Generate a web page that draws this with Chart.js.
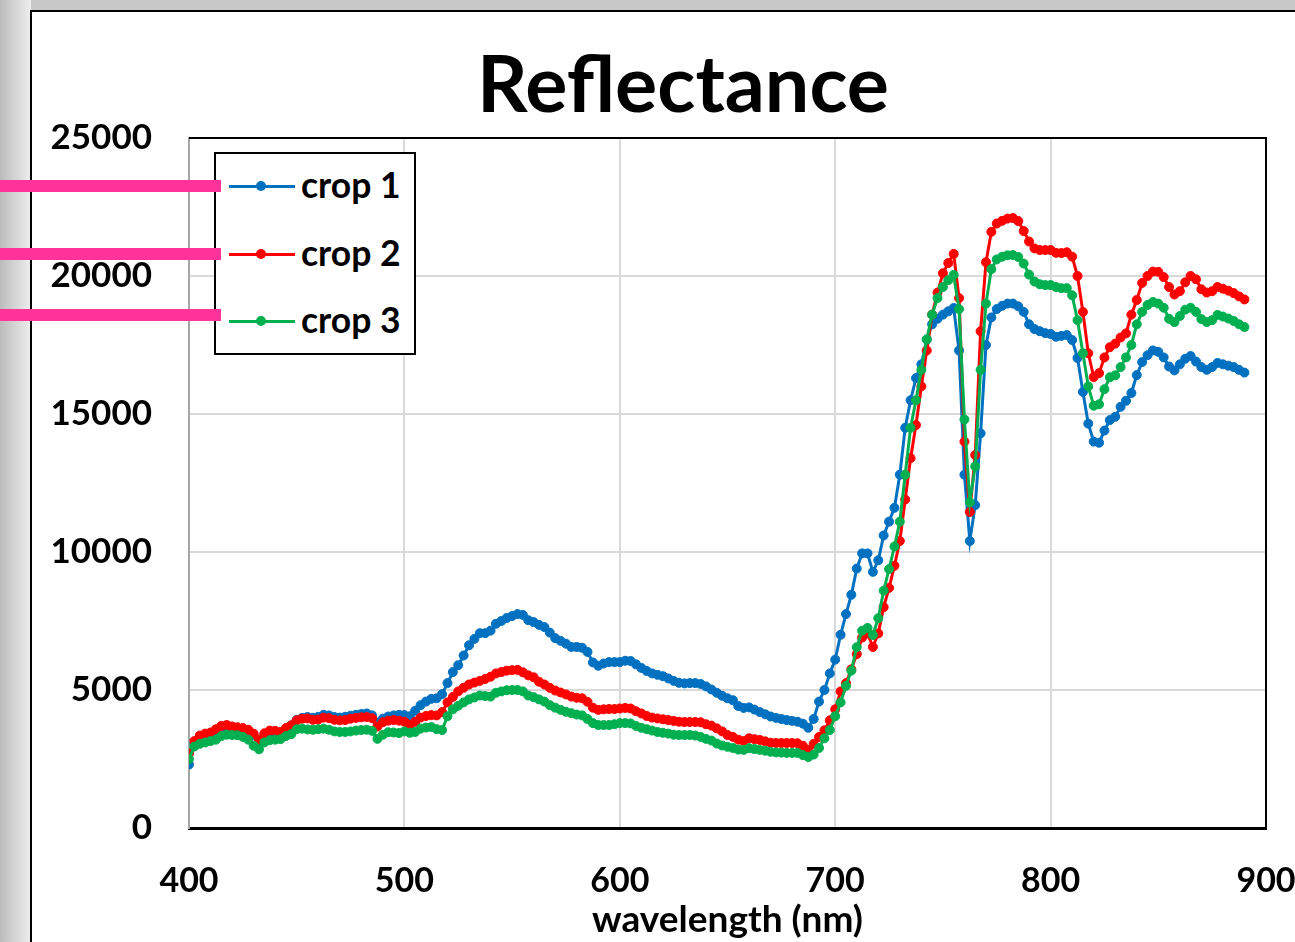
<!DOCTYPE html>
<html><head><meta charset="utf-8">
<script src="https://cdn.jsdelivr.net/npm/chart.js@4.4.1/dist/chart.umd.min.js"></script>
<style>
html,body{margin:0;padding:0;width:1295px;height:942px;overflow:hidden;background:#c8c8c8;font-family:Lato,sans-serif;}
#bgLeft{position:absolute;left:0;top:0;width:31px;height:942px;background:linear-gradient(to right,#bcbcbc,#eeeeee);}
#panel{position:absolute;left:30px;top:10px;width:1300px;height:1000px;background:#fff;border-left:2px solid #000;border-top:2px solid #000;}
#wrap{position:absolute;left:0;top:0;width:1366px;height:942px;}
.pink{position:absolute;left:0;width:221px;height:12px;background:#ff3399;z-index:5;}
#legend{position:absolute;left:214px;top:152px;width:198px;height:199px;border:2px solid #000;background:#fff;z-index:3;}
.sample{position:absolute;left:229px;width:66px;height:3px;z-index:4;}
.dot{position:absolute;left:256px;width:10px;height:10px;border-radius:50%;z-index:4;}
.ltext{position:absolute;left:301px;font-family:Lato,sans-serif;font-weight:bold;font-size:35.5px;line-height:35px;color:#000;z-index:4;white-space:nowrap;}
</style></head>
<body>
<div id="bgLeft"></div>
<div id="panel"></div>
<div id="wrap"><canvas id="c" width="1366" height="942"></canvas></div>
<div id="legend"></div>
<div id="legendItems"></div>
<div class="pink" style="top:180px"></div>
<div class="pink" style="top:248px"></div>
<div class="pink" style="top:309px"></div>
<script>
const seriesNames = ['crop 1', 'crop 2', 'crop 3'];
const seriesColors = ['#0070C0', '#FF0000', '#00B050'];
const xTicks = [400, 500, 600, 700, 800, 900];
const yTicks = [0, 5000, 10000, 15000, 20000, 25000];

const wavelengths = [
400, 402.5, 405, 407.5, 410, 412.5, 415, 417.5, 420, 422.5,
425, 427.5, 430, 432.5, 435, 437.5, 440, 442.5, 445, 447.5,
450, 452.5, 455, 457.5, 460, 462.5, 465, 467.5, 470, 472.5,
475, 477.5, 480, 482.5, 485, 487.5, 490, 492.5, 495, 497.5,
500, 502.5, 505, 507.5, 510, 512.5, 515, 517.5, 520, 522.5,
525, 527.5, 530, 532.5, 535, 537.5, 540, 542.5, 545, 547.5,
550, 552.5, 555, 557.5, 560, 562.5, 565, 567.5, 570, 572.5,
575, 577.5, 580, 582.5, 585, 587.5, 590, 592.5, 595, 597.5,
600, 602.5, 605, 607.5, 610, 612.5, 615, 617.5, 620, 622.5,
625, 627.5, 630, 632.5, 635, 637.5, 640, 642.5, 645, 647.5,
650, 652.5, 655, 657.5, 660, 662.5, 665, 667.5, 670, 672.5,
675, 677.5, 680, 682.5, 685, 687.5, 690, 692.5, 695, 697.5,
700, 702.5, 705, 707.5, 710, 712.5, 715, 717.5, 720, 722.5,
725, 727.5, 730, 732.5, 735, 737.5, 740, 742.5, 745, 747.5,
750, 752.5, 755, 757.5, 760, 762.5, 765, 767.5, 770, 772.5,
775, 777.5, 780, 782.5, 785, 787.5, 790, 792.5, 795, 797.5,
800, 802.5, 805, 807.5, 810, 812.5, 815, 817.5, 820, 822.5,
825, 827.5, 830, 832.5, 835, 837.5, 840, 842.5, 845, 847.5,
850, 852.5, 855, 857.5, 860, 862.5, 865, 867.5, 870, 872.5,
875, 877.5, 880, 882.5, 885, 887.5, 890
];

const crop1 = [
2300, 3050, 3300, 3380, 3420, 3530, 3650, 3680, 3640, 3600,
3570, 3500, 3360, 3150, 3380, 3480, 3470, 3440, 3600, 3720,
3920, 3990, 4020, 3990, 4030, 4100, 4080, 4020, 4000, 4030,
4070, 4100, 4130, 4150, 4080, 3820, 3960, 4040, 4080, 4100,
4090, 4050, 4250, 4450, 4580, 4680, 4700, 4850, 5250, 5650,
5900, 6250, 6620, 6850, 7060, 7060, 7150, 7400, 7500, 7610,
7680, 7750, 7720, 7530, 7460, 7360, 7280, 7080, 6880, 6780,
6680, 6560, 6560, 6530, 6380, 6000, 5880, 5960, 6010, 6010,
6010, 6060, 6050, 5930, 5800, 5690, 5600, 5550, 5500, 5420,
5330, 5260, 5240, 5250, 5250, 5220, 5130, 5020, 4900, 4790,
4700, 4630, 4420, 4350, 4370, 4290, 4200, 4120, 4040, 3990,
3950, 3910, 3880, 3850, 3780, 3630, 3950, 4580, 5000, 5600,
6100, 7000, 7750, 8450, 9400, 9950, 9950, 9280, 9700, 10600,
11100, 11600, 12800, 14500, 15500, 16300, 16800, 17700, 18250, 18450,
18600, 18720, 18840, 17300, 12800, 10400, 11700, 14300, 17500, 18500,
18800, 18920, 19000, 19000, 18900, 18700, 18250, 18080, 18000, 17930,
17900, 17800, 17830, 17860, 17680, 17030, 15800, 14650, 14000, 13960,
14400, 14780, 14900, 15260, 15480, 15760, 16410, 16880, 17130, 17300,
17250, 17050, 16720, 16580, 16800, 17000, 17100, 16900, 16700, 16600,
16700, 16850, 16800, 16750, 16700, 16600, 16500
];

const crop2 = [
2700, 3150, 3350, 3420, 3460, 3580, 3700, 3730, 3680, 3650,
3620, 3560, 3420, 3200, 3430, 3530, 3520, 3480, 3620, 3720,
3900, 3960, 3970, 3920, 3930, 4000, 3980, 3920, 3900, 3910,
3960, 3990, 4010, 4020, 3980, 3680, 3830, 3890, 3910, 3890,
3850, 3740, 3850, 4000, 4060, 4090, 4080, 4200, 4550, 4750,
4950, 5080, 5200, 5270, 5330, 5400, 5480, 5600, 5650, 5700,
5720, 5730, 5640, 5530, 5460, 5300, 5200, 5080, 4980, 4910,
4840, 4760, 4720, 4700, 4570, 4360, 4280, 4300, 4310, 4310,
4330, 4350, 4330, 4230, 4150, 4060, 4000, 3970, 3940, 3910,
3880, 3850, 3840, 3840, 3840, 3830, 3760, 3710, 3610, 3500,
3370, 3300, 3200, 3150, 3250, 3220, 3190, 3140, 3090, 3080,
3080, 3080, 3080, 3070, 2980, 2830, 3050, 3300, 3540, 3900,
4300, 4950, 5250, 5750, 6300, 6900, 7050, 6560, 7050, 8000,
8700, 9500, 10400, 11900, 13400, 14600, 16000, 17300, 18600, 19400,
20100, 20470, 20800, 19200, 14000, 11450, 13510, 18000, 20500, 21600,
21900, 22000, 22080, 22100, 21990, 21630, 21250, 21000, 20940, 20940,
20940, 20840, 20830, 20860, 20700, 20000, 18700, 17200, 16340, 16480,
17050, 17420, 17550, 17770, 17920, 18600, 19130, 19750, 20000, 20160,
20150, 19960, 19600, 19330, 19450, 19770, 20000, 19880, 19520, 19400,
19450, 19600, 19540, 19470, 19380, 19260, 19150
];

const crop3 = [
2500, 2950, 3050, 3100, 3150, 3200, 3330, 3380, 3370, 3360,
3300, 3200, 2980, 2850, 3100, 3180, 3200, 3220, 3330, 3400,
3580, 3600, 3570, 3560, 3580, 3600, 3560, 3500, 3480, 3480,
3500, 3530, 3550, 3560, 3520, 3230, 3380, 3470, 3460, 3440,
3500, 3450, 3480, 3600, 3640, 3660, 3580, 3550, 4050, 4300,
4430, 4550, 4660, 4730, 4800, 4780, 4760, 4900, 4950, 4990,
5000, 5000, 4950, 4800, 4740, 4660, 4580, 4450, 4360, 4280,
4210, 4160, 4110, 4080, 3950, 3800, 3730, 3730, 3730, 3760,
3800, 3800, 3790, 3700, 3630, 3580, 3530, 3480, 3450, 3420,
3380, 3370, 3370, 3370, 3350, 3300, 3230, 3170, 3060, 2990,
2940, 2900, 2840, 2830, 2890, 2860, 2830, 2800, 2760, 2740,
2730, 2720, 2720, 2720, 2640, 2570, 2660, 2900, 3250, 3550,
4050, 4550, 5150, 5700, 6550, 7150, 7250, 6990, 7600, 8600,
9380, 10200, 11100, 12800, 14500, 15500, 16600, 17700, 18600, 19200,
19600, 19850, 20040, 18800, 14800, 11800, 13100, 16600, 19000, 20250,
20600, 20700, 20750, 20760, 20690, 20450, 20050, 19800, 19700, 19670,
19670, 19600, 19560, 19560, 19300, 18400, 17200, 16000, 15300, 15350,
15900, 16330, 16400, 16700, 17050, 17500, 18250, 18700, 18950, 19060,
19000, 18850, 18450, 18330, 18550, 18780, 18850, 18700, 18440, 18330,
18400, 18590, 18530, 18460, 18370, 18250, 18150
];

const allSeries = [crop1, crop2, crop3];
const FONT = 'Lato';

// HTML legend
const li = document.getElementById('legendItems');
const legendY = [186, 254, 321];
seriesNames.forEach((n, i) => {
  const yc = legendY[i];
  const s = document.createElement('div'); s.className = 'sample';
  s.style.top = (yc - 1.5) + 'px'; s.style.background = seriesColors[i]; li.appendChild(s);
  const d = document.createElement('div'); d.className = 'dot';
  d.style.top = (yc - 5) + 'px'; d.style.background = seriesColors[i]; li.appendChild(d);
  const t = document.createElement('div'); t.className = 'ltext';
  t.style.top = (yc - 19) + 'px'; t.textContent = n; li.appendChild(t);
});

const frame = {
  id: 'frame',
  beforeDatasetsDraw(chart) {
    const {ctx, chartArea: a} = chart;
    ctx.save();
    ctx.strokeStyle = '#000';
    ctx.lineWidth = 2;
    ctx.beginPath();
    ctx.moveTo(a.left, a.top); ctx.lineTo(a.right, a.top); ctx.lineTo(a.right, a.bottom);
    ctx.stroke();
    ctx.restore();
  }
};

const datasets = allSeries.map((vals, i) => ({
  label: seriesNames[i],
  data: vals.map((v, k) => ({x: wavelengths[k], y: v})),
  borderColor: seriesColors[i],
  backgroundColor: seriesColors[i],
  pointBackgroundColor: seriesColors[i],
  pointBorderColor: seriesColors[i],
  borderWidth: 3,
  pointRadius: 4.5,
  pointBorderWidth: 1,
  tension: 0,
  fill: false,
  order: 3 - i
}));

new Chart(document.getElementById('c'), {
  type: 'line',
  data: { datasets },
  options: {
    responsive: false,
    animation: false,
    events: [],
    layout: { padding: { left: 30, right: 30, top: 10, bottom: 0 } },
    plugins: {
      legend: { display: false },
      tooltip: { enabled: false },
      title: {
        display: true, text: 'Reflectance', color: '#000',
        font: { family: FONT, size: 79, weight: 'bold', lineHeight: 1.2 },
        padding: { top: 29, bottom: 4.2 }
      }
    },
    scales: {
      x: {
        type: 'linear', min: xTicks[0], max: xTicks[xTicks.length - 1],
        afterBuildTicks: s => { s.ticks = xTicks.map(v => ({value: v})); },
        ticks: { color: '#000', font: { family: FONT, size: 34, weight: 'bold' }, padding: 33, maxRotation: 0, autoSkip: false, callback: v => String(v) },
        grid: { color: '#d9d9d9', lineWidth: 2, drawTicks: false },
        border: { color: '#000', width: 3 },
        title: { display: true, text: 'wavelength (nm)', color: '#000', font: { family: FONT, size: 37, weight: 'bold', lineHeight: 1.2 }, padding: { top: 0, bottom: 0 } },
        afterFit: s => { s.height = 114; s.paddingLeft = 0; s.paddingRight = 0; }
      },
      y: {
        min: yTicks[0], max: yTicks[yTicks.length - 1],
        afterBuildTicks: s => { s.ticks = yTicks.map(v => ({value: v})); },
        ticks: { color: '#000', font: { family: FONT, size: 35, weight: 'bold' }, padding: 37, autoSkip: false, callback: v => String(v) },
        grid: { color: '#d9d9d9', lineWidth: 2, drawTicks: false },
        border: { color: '#a6a6a6', width: 2 },
        afterFit: s => { s.width = 159; }
      },
      yRightSpace: {
        position: 'right', min: 0, max: 1,
        ticks: { display: false },
        grid: { display: false, drawTicks: false },
        border: { display: false },
        afterFit: s => { s.width = 70; s.paddingTop = 0; s.paddingBottom = 0; }
      }
    }
  },
  plugins: [frame]
});
</script>
</body></html>
